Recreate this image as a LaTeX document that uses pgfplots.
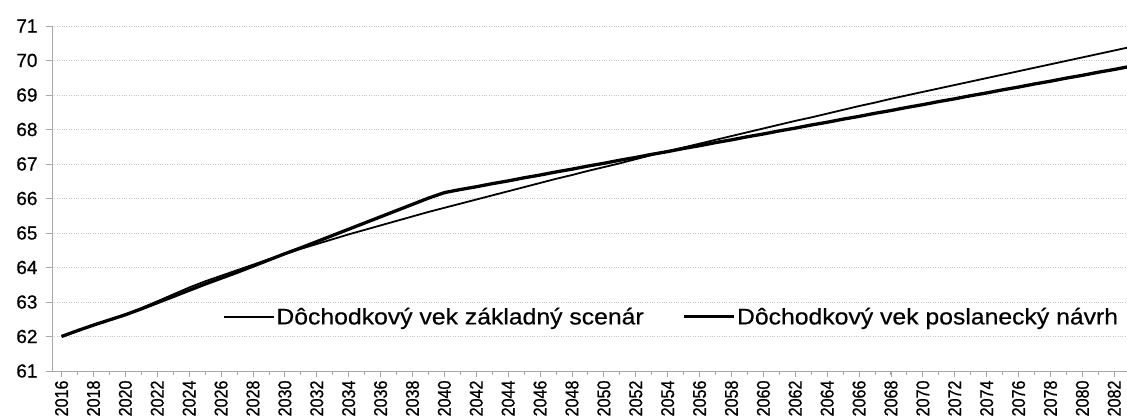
\documentclass[border=0pt]{standalone}
\usepackage{fontspec}
\setmainfont[FakeBold=0.6]{Liberation Sans}
\newfontfamily\legfont[FakeStretch=1.1,FakeBold=0.5]{Liberation Sans}
\newfontfamily\xfont[FakeStretch=0.87,FakeBold=0.8]{Liberation Sans}
\usepackage{pgfplots}
\pgfplotsset{compat=1.18}
\usepackage{pgfplotstable}

\pgfplotstableread{
year base prop
2016 62.00 62.00
2017 62.17 62.17
2018 62.33 62.33
2019 62.48 62.48
2020 62.63 62.63
2021 62.82 62.80
2022 63.02 62.98
2023 63.22 63.16
2024 63.42 63.34
2025 63.60 63.52
2026 63.76 63.69
2027 63.92 63.86
2028 64.08 64.04
2029 64.24 64.22
2030 64.39 64.40
2031 64.54 64.57
2032 64.68 64.75
2033 64.82 64.93
2034 64.96 65.11
2035 65.09 65.29
2036 65.22 65.47
2037 65.35 65.65
2038 65.48 65.83
2039 65.61 66.01
2040 65.73 66.17
2041 65.85 66.26
2042 65.97 66.34
2043 66.09 66.43
2044 66.21 66.51
2045 66.33 66.60
2046 66.45 66.68
2047 66.57 66.77
2048 66.68 66.85
2049 66.80 66.94
2050 66.91 67.02
2051 67.02 67.11
2052 67.14 67.19
2053 67.26 67.28
2054 67.37 67.36
2055 67.48 67.45
2056 67.59 67.53
2057 67.70 67.62
2058 67.81 67.70
2059 67.92 67.79
2060 68.03 67.87
2061 68.14 67.96
2062 68.25 68.04
2063 68.35 68.13
2064 68.46 68.21
2065 68.57 68.30
2066 68.68 68.38
2067 68.78 68.47
2068 68.89 68.55
2069 68.99 68.64
2070 69.09 68.72
2071 69.19 68.81
2072 69.29 68.89
2073 69.39 68.98
2074 69.49 69.06
2075 69.59 69.15
2076 69.69 69.23
2077 69.79 69.32
2078 69.89 69.40
2079 69.99 69.49
2080 70.09 69.57
2081 70.19 69.66
2082 70.29 69.74
2083 70.39 69.83
}\data

\begin{document}
\begin{tikzpicture}
\begin{axis}[
  at={(52pt,47pt)}, anchor=south west,
  width=1075pt, height=345pt, scale only axis,
  xmin=2015.4, xmax=2082.8, ymin=61, ymax=71,
  ytick={61,...,71},
  xtick={2016,2018,...,2082},
  minor xtick={2016,...,2083},
  axis x line*=bottom, axis y line*=left,
  x axis line style={-}, y axis line style={-},
  axis line style={gray!70, line width=0.8pt},
  ymajorgrids, grid style={gray!45, dotted, line width=0.9pt},
  tick style={gray!70, line width=0.8pt},
  tick align=outside,
  major tick length=6pt, minor tick length=4pt,
  /pgf/number format/assume math mode=true,
  /pgf/number format/1000 sep={},
  yticklabel style={font=\fontsize{19}{20}\selectfont, xshift=-5pt},
  xticklabel style={rotate=90, anchor=east, font=\xfont\fontsize{18.5}{18.5}\selectfont},
  legend style={at={(0.159,0.157)}, anchor=west, draw=none, fill=none,
    inner sep=0pt, nodes={inner sep=1.5pt},
    font=\legfont\fontsize{22.5}{24}\selectfont,
    /tikz/every even column/.append style={column sep=37pt}},
  legend columns=2,
  legend cell align=left,
  legend image code/.code={\draw[#1] (0pt,0pt) -- (50pt,0pt);},
]
\addplot[black, line width=1.8pt] table[x=year, y=base] {\data};
\addlegendentry{Dôchodkový vek základný scenár}
\addplot[black, line width=3.3pt] table[x=year, y=prop] {\data};
\addlegendentry{Dôchodkový vek poslanecký návrh}
\end{axis}
\pgfresetboundingbox
\useasboundingbox (0,0) rectangle (1127pt,418pt);
\end{tikzpicture}
\end{document}
